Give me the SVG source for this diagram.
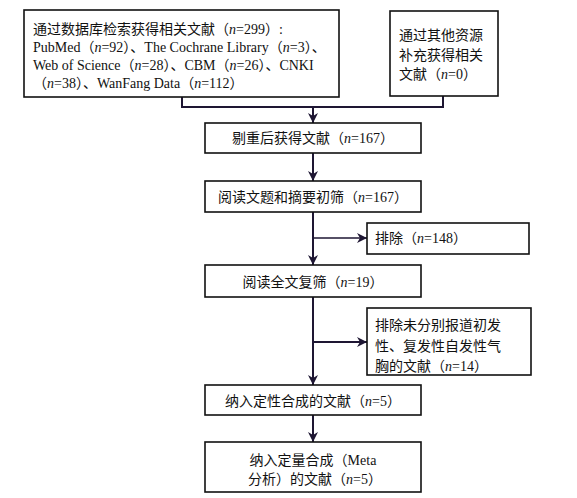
<svg xmlns="http://www.w3.org/2000/svg" width="577" height="498" viewBox="0 0 577 498">
<style>
.box{fill:#fff;stroke:#111;stroke-width:1.6}
.t{font-family:"Liberation Serif","Noto Sans CJK SC",serif;font-size:14px;fill:#111}
.c{text-anchor:middle}
.i{font-style:italic}
.ln{fill:none;stroke:#1e1633;stroke-width:2}
.ln2{fill:none;stroke:#1e1633;stroke-width:1.3}
</style>
<defs>
<marker id="ah" viewBox="0 0 10 10" refX="10" refY="5" markerWidth="10" markerHeight="10" markerUnits="userSpaceOnUse" orient="auto">
<path d="M0,0 L10,5 L0,10 L3,5 Z" fill="#1e1633"/>
</marker>
</defs>
<rect width="577" height="498" fill="#fff"/>
<g id="connectors">
<path class="ln" d="M182,97 V107 H443 V96"/>
<path class="ln" d="M313,107 V123" marker-end="url(#ah)"/>
<path class="ln" d="M313,153 V181" marker-end="url(#ah)"/>
<path class="ln" d="M313,212 V265" marker-end="url(#ah)"/>
<path class="ln2" d="M313,238 H367" marker-end="url(#ah)"/>
<path class="ln" d="M313,297 V385" marker-end="url(#ah)"/>
<path class="ln" d="M313,342 H367" marker-end="url(#ah)"/>
<path class="ln" d="M313,415 V442" marker-end="url(#ah)"/>
</g>
<g id="n1">
<rect class="box" x="24" y="10" width="315" height="87"/>
<text class="t" x="33" y="34">通过数据库检索获得相关文献（<tspan class="i">n</tspan>=299）:</text>
<text class="t" x="33" y="52">PubMed（<tspan class="i">n</tspan>=92）、The Cochrane Library（<tspan class="i">n</tspan>=3）、</text>
<text class="t" x="33" y="70">Web of Science（<tspan class="i">n</tspan>=28）、CBM（<tspan class="i">n</tspan>=26）、CNKI</text>
<text class="t" x="33" y="88">（<tspan class="i">n</tspan>=38）、WanFang Data（<tspan class="i">n</tspan>=112）</text>
</g>
<g id="n2">
<rect class="box" x="390" y="11" width="108" height="85"/>
<text class="t" x="399" y="40">通过其他资源</text>
<text class="t" x="399" y="60">补充获得相关</text>
<text class="t" x="399" y="79">文献（<tspan class="i">n</tspan>=0）</text>
</g>
<g id="n3">
<rect class="box" x="205" y="123" width="216" height="30"/>
<text class="t c" x="313" y="143">剔重后获得文献（<tspan class="i">n</tspan>=167）</text>
</g>
<g id="n4">
<rect class="box" x="205" y="181" width="216" height="31"/>
<text class="t c" x="313" y="202">阅读文题和摘要初筛（<tspan class="i">n</tspan>=167）</text>
</g>
<g id="n5">
<rect class="box" x="367" y="223" width="162" height="31"/>
<text class="t" x="375" y="243">排除（<tspan class="i">n</tspan>=148）</text>
</g>
<g id="n6">
<rect class="box" x="205" y="265" width="216" height="32"/>
<text class="t c" x="313" y="287">阅读全文复筛（<tspan class="i">n</tspan>=19）</text>
</g>
<g id="n7">
<rect class="box" x="367" y="308" width="164" height="67"/>
<text class="t" x="375" y="330">排除未分别报道初发</text>
<text class="t" x="375" y="351">性、复发性自发性气</text>
<text class="t" x="375" y="371">胸的文献（<tspan class="i">n</tspan>=14）</text>
</g>
<g id="n8">
<rect class="box" x="205" y="385" width="216" height="30"/>
<text class="t c" x="313" y="406">纳入定性合成的文献（<tspan class="i">n</tspan>=5）</text>
</g>
<g id="n9">
<rect class="box" x="205" y="442" width="216" height="50"/>
<text class="t c" x="313" y="465">纳入定量合成（Meta</text>
<text class="t c" x="315" y="484">分析）的文献（<tspan class="i">n</tspan>=5）</text>
</g>
</svg>
